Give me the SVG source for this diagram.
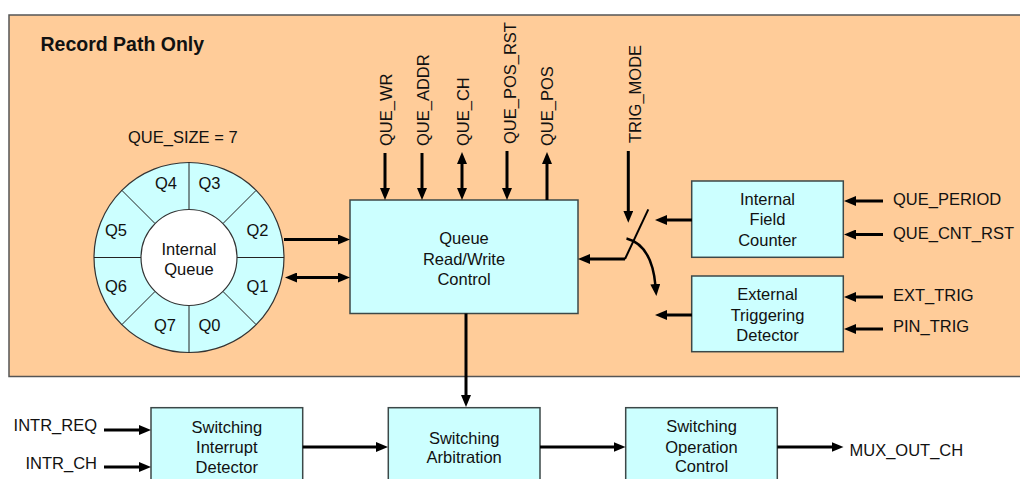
<svg xmlns="http://www.w3.org/2000/svg" width="1020" height="479" viewBox="0 0 1020 479">
<style>
text{font-family:"Liberation Sans",Arial,sans-serif;font-size:16.5px;fill:#111}
.c{text-anchor:middle}
.e{text-anchor:end}
.box{fill:#CCFFFF;stroke:#3c4848;stroke-width:1.5}
.ln{stroke:#000;stroke-width:3;fill:none}
.a{marker-end:url(#ah)}
.b{marker-start:url(#ah);marker-end:url(#ah)}
.seg{stroke:#222;stroke-width:1;fill:none}
</style>
<defs>
<marker id="ah" viewBox="0 0 12 10" refX="2" refY="5" markerWidth="12" markerHeight="10" markerUnits="userSpaceOnUse" orient="auto-start-reverse"><path d="M0,0 L12,5 L0,10 z" fill="#000"/></marker>
</defs>
<rect x="0" y="0" width="1020" height="479" fill="#fff"/>
<g id="record-path">
<rect x="9" y="15" width="1020" height="361.5" fill="#FFCC99" stroke="#555" stroke-width="1.5"/>
<text x="40.5" y="50.5" style="font-weight:bold;font-size:19.5px">Record Path Only</text>
</g>
<g id="internal-queue">
<text x="128" y="142.5">QUE_SIZE = 7</text>
<circle cx="189" cy="257.5" r="95" fill="#CCFFFF" stroke="#333" stroke-width="1.2"/>
<line class="seg" x1="237" y1="257.5" x2="284" y2="257.5"/>
<line class="seg" x1="141" y1="257.5" x2="94" y2="257.5"/>
<line class="seg" x1="189" y1="209.5" x2="189" y2="162.5"/>
<line class="seg" x1="189" y1="305.5" x2="189" y2="352.5"/>
<line class="seg" x1="222.9" y1="291.4" x2="256.2" y2="324.7"/>
<line class="seg" x1="222.9" y1="223.6" x2="256.2" y2="190.3"/>
<line class="seg" x1="155.1" y1="223.6" x2="121.8" y2="190.3"/>
<line class="seg" x1="155.1" y1="291.4" x2="121.8" y2="324.7"/>
<circle cx="189" cy="257.5" r="48" fill="#fff" stroke="#333" stroke-width="1.2"/>
<text class="c" x="189" y="255">Internal</text>
<text class="c" x="189" y="274.5">Queue</text>
<text class="c" x="166" y="189">Q4</text>
<text class="c" x="209.5" y="189">Q3</text>
<text class="c" x="257.5" y="236">Q2</text>
<text class="c" x="257.5" y="292">Q1</text>
<text class="c" x="209.5" y="331">Q0</text>
<text class="c" x="165" y="331">Q7</text>
<text class="c" x="116" y="292">Q6</text>
<text class="c" x="116" y="236">Q5</text>
</g>
<g id="queue-rw-control">
<rect class="box" x="350" y="200" width="228" height="113.5"/>
<text class="c" x="464" y="243.5">Queue</text>
<text class="c" x="464" y="265">Read/Write</text>
<text class="c" x="464" y="285">Control</text>
</g>
<g id="signal-labels">
<text transform="translate(392,146) rotate(-90)">QUE_WR</text>
<text transform="translate(429,146) rotate(-90)">QUE_ADDR</text>
<text transform="translate(469,146) rotate(-90)">QUE_CH</text>
<text transform="translate(516,144) rotate(-90)">QUE_POS_RST</text>
<text transform="translate(553,146) rotate(-90)">QUE_POS</text>
<text transform="translate(641,143) rotate(-90)">TRIG_MODE</text>
<text x="893" y="205">QUE_PERIOD</text>
<text x="893" y="238.5">QUE_CNT_RST</text>
<text x="893" y="301">EXT_TRIG</text>
<text x="893" y="332">PIN_TRIG</text>
<text class="e" x="97" y="431">INTR_REQ</text>
<text class="e" x="97" y="468.5">INTR_CH</text>
<text x="849.5" y="455.5">MUX_OUT_CH</text>
</g>
<g id="internal-field-counter">
<rect class="box" x="691.7" y="181" width="151.6" height="76.3"/>
<text class="c" x="767.5" y="205">Internal</text>
<text class="c" x="767.5" y="225">Field</text>
<text class="c" x="767.5" y="245.5">Counter</text>
</g>
<g id="external-triggering-detector">
<rect class="box" x="691.7" y="276" width="151.6" height="75.7"/>
<text class="c" x="767.5" y="300">External</text>
<text class="c" x="767.5" y="321">Triggering</text>
<text class="c" x="767.5" y="341">Detector</text>
</g>
<g id="switching-interrupt-detector">
<rect class="box" x="151" y="407.7" width="151.7" height="90"/>
<text class="c" x="226.8" y="432.5">Switching</text>
<text class="c" x="226.8" y="453">Interrupt</text>
<text class="c" x="226.8" y="472.5">Detector</text>
</g>
<g id="switching-arbitration">
<rect class="box" x="388.3" y="407.7" width="151.7" height="90"/>
<text class="c" x="464.2" y="443.5">Switching</text>
<text class="c" x="464.2" y="463">Arbitration</text>
</g>
<g id="switching-operation-control">
<rect class="box" x="625.7" y="407.7" width="151.6" height="90"/>
<text class="c" x="701.5" y="432">Switching</text>
<text class="c" x="701.5" y="452.5">Operation</text>
<text class="c" x="701.5" y="472">Control</text>
</g>
<g id="connectors">
<line class="ln a" x1="385" y1="153" x2="385" y2="190"/>
<line class="ln a" x1="422" y1="153" x2="422" y2="190"/>
<line class="ln b" x1="462" y1="162" x2="462" y2="190"/>
<line class="ln a" x1="507" y1="151" x2="507" y2="190"/>
<line class="ln a" x1="547" y1="200" x2="547" y2="162"/>
<line class="ln a" x1="628.3" y1="151" x2="628.3" y2="212.7"/>
<line class="ln a" x1="284" y1="239.5" x2="340" y2="239.5"/>
<line class="ln b" x1="295" y1="277.5" x2="340" y2="277.5"/>
<line class="ln a" x1="625" y1="259" x2="588" y2="259"/>
<line x1="648.3" y1="209.3" x2="625" y2="259" stroke="#000" stroke-width="2"/>
<path class="ln a" d="M626.5,238.5 Q652,245 655.5,286" style="stroke-width:2.5"/>
<line class="ln a" x1="692" y1="220" x2="665" y2="220"/>
<line class="ln a" x1="692" y1="315" x2="665" y2="315"/>
<line class="ln a" x1="883" y1="201" x2="854" y2="201"/>
<line class="ln a" x1="883" y1="234.5" x2="854" y2="234.5"/>
<line class="ln a" x1="883" y1="297" x2="854" y2="297"/>
<line class="ln a" x1="883" y1="329" x2="854" y2="329"/>
<line class="ln a" x1="466" y1="313.5" x2="466" y2="397"/>
<line class="ln a" x1="104" y1="430" x2="141" y2="430"/>
<line class="ln a" x1="104" y1="467" x2="141" y2="467"/>
<line class="ln a" x1="302.7" y1="447" x2="378" y2="447"/>
<line class="ln a" x1="540" y1="447" x2="615.5" y2="447"/>
<line class="ln a" x1="777.3" y1="447" x2="833.5" y2="447"/>
</g>
</svg>
